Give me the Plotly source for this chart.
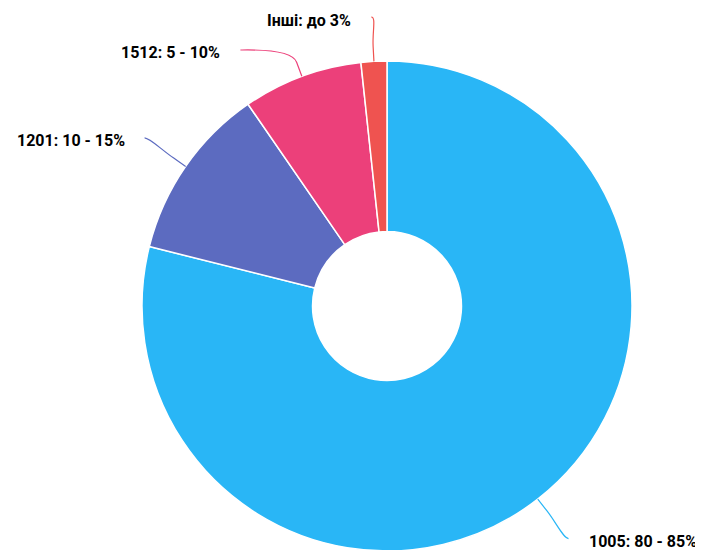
import math
import plotly.graph_objects as go

# ---- data ----
codes = ["1005", "1201", "1512", "Інші"]
ranges = ["80 - 85%", "10 - 15%", "5 - 10%", "до 3%"]
values = [78.9, 11.5, 7.9, 1.7]
colors = ["#29b6f6", "#5c6bc0", "#ec407a", "#ef5350"]

# ---- layout geometry (figure pixel coords) ----
W, H = 703, 550
CX, CY, R = 379.0, 298.0, 245.0   # pie centre / radius in figure pixels
dom_x = [(CX - R) / W, (CX + R) / W]
dom_y = [(H - CY - R) / H, (H - CY + R) / H]
label_dist = 50
break_dist = 15
gap_text = 18
text_dy = 3
min_gap = 33
min_y = 9

def px(x, y):
    return x / W, 1 - y / H

fig = go.Figure(go.Pie(
    labels=codes, values=values, sort=False, direction="clockwise", rotation=0,
    hole=0.304, textinfo="none", hoverinfo="label+percent",
    marker=dict(colors=colors, line=dict(color="white", width=1.5)),
    domain=dict(x=dom_x, y=dom_y), showlegend=False,
))

total = sum(values)
cum = 0
items = []
for code, rng, v, c in zip(codes, ranges, values, colors):
    mid = (cum + v / 2) / total * 2 * math.pi
    cum += v
    left = math.sin(mid) < 0
    rl = R + label_dist
    items.append(dict(code=code, rng=rng, color=c, mid=mid, left=left,
                      y=CY - rl * math.cos(mid), x=CX + rl * math.sin(mid), moved=False))

# simple vertical overlap avoidance per side
for side in (True, False):
    side_items = sorted([it for it in items if it["left"] == side], key=lambda d: d["y"])
    prev = None
    for it in side_items:
        target = it["y"]
        if prev is None:
            target = max(target, min_y)
        elif target < prev + min_gap:
            target = prev + min_gap
            it["moved"] = True
        if it["moved"]:
            rl = R + label_dist
            dy = max(-rl, min(rl, target - CY))
            it["x"] = CX + (-1 if side else 1) * math.sqrt(rl * rl - dy * dy)
        it["y"] = target
        prev = target

shapes = []
annotations = []
for it in items:
    m = it["mid"]
    tx, ty = CX + R * math.sin(m), CY - R * math.cos(m)
    bx, by = CX + (R + break_dist) * math.sin(m), CY - (R + break_dist) * math.cos(m)
    lx, ly = it["x"], it["y"]
    c1x = lx + (5 if it["left"] else -5)
    pts = [(lx, ly), (c1x, ly), (2 * bx - tx, 2 * by - ty), (bx, by), (tx, ty)]
    p = [px(*q) for q in pts]
    path = (f"M {p[0][0]},{p[0][1]} C {p[1][0]},{p[1][1]} {p[2][0]},{p[2][1]} {p[3][0]},{p[3][1]} "
            f"L {p[4][0]},{p[4][1]}")
    shapes.append(dict(type="path", path=path, xref="paper", yref="paper",
                       line=dict(color=it["color"], width=1.2)))
    ax, ay = px(lx + (-gap_text if it["left"] else gap_text), ly + text_dy)
    annotations.append(dict(
        x=ax, y=ay, xref="paper", yref="paper", showarrow=False,
        xanchor="right" if it["left"] else "left", yanchor="middle",
        text=f"{it['code']}: {it['rng']}",
        font=dict(family="Roboto", size=16, color="#000000", weight="bold"),
    ))

fig.update_layout(
    width=W, height=H, margin=dict(l=0, r=0, t=0, b=0),
    paper_bgcolor="white", plot_bgcolor="white",
    shapes=shapes, annotations=annotations,
)
fig.write_html("out.html")
